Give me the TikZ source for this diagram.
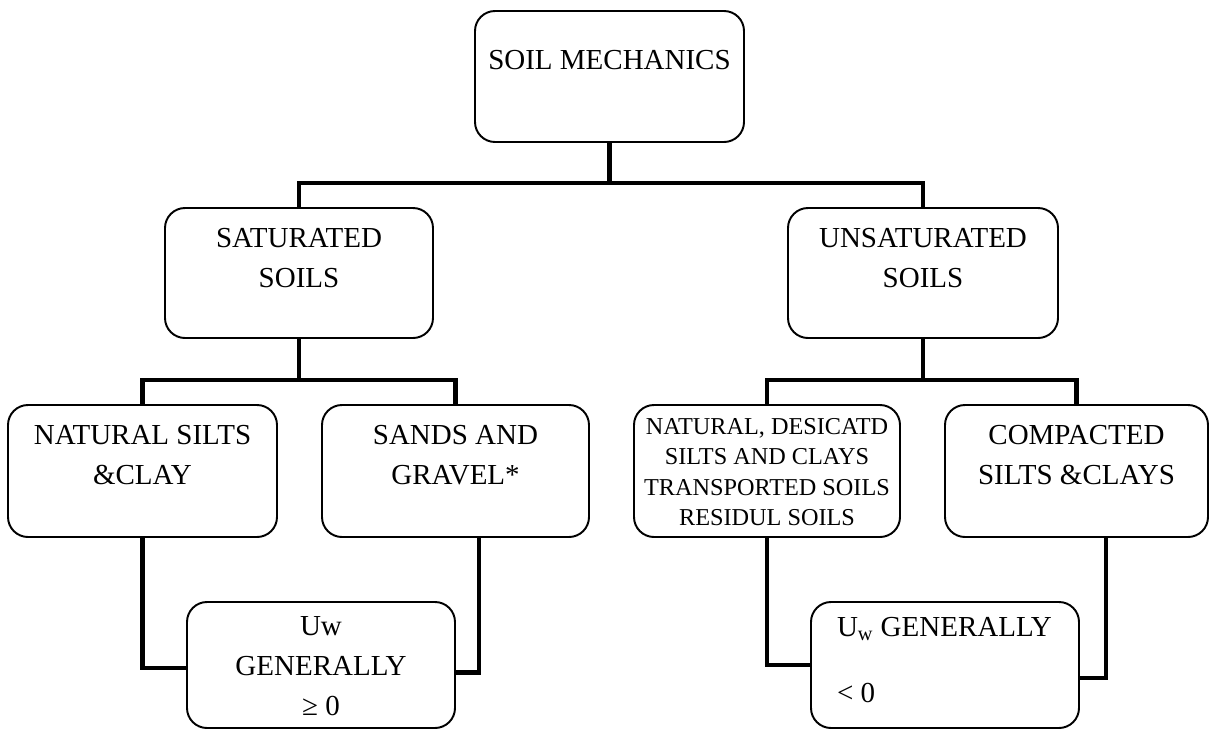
\documentclass[tikz,border=0pt]{standalone}
\usepackage{fontspec}
\setmainfont{Liberation Serif}
\newcommand{\celltext}[4]{\parbox[c][#2][t]{#1}{\centering\vspace*{#3}#4}}

\begin{document}
\begin{tikzpicture}[
  box/.style={draw,line width=1.1pt,rounded corners=0.4cm,inner sep=0pt,fill=white,font=\fontsize{16.5pt}{22.7pt}\selectfont},
  small/.style={font=\fontsize{13.8pt}{17.4pt}\selectfont},
  link/.style={line width=2.8pt}
]
\useasboundingbox (0,0) rectangle (24.24,-14.6);
% top level
\node[box] (soil) at (12.19,-1.53) {\celltext{5.38cm}{2.62cm}{0.78cm}{SOIL MECHANICS}};
\node[box] (sat) at (5.98,-5.46) {\celltext{5.36cm}{2.6cm}{0.4cm}{SATURATED\\SOILS}};
\node[box] (unsat) at (18.46,-5.46) {\celltext{5.4cm}{2.6cm}{0.4cm}{UNSATURATED\\SOILS}};
% soil groups
\node[box] (nsilt) at (2.85,-9.42) {\celltext{5.38cm}{2.64cm}{0.4cm}{NATURAL SILTS\\\&CLAY}};
\node[box] (sands) at (9.11,-9.42) {\celltext{5.34cm}{2.64cm}{0.4cm}{SANDS AND\\GRAVEL*}};
\node[box,small] (dsilt) at (15.34,-9.42) {\celltext{5.32cm}{2.64cm}{0.26cm}{NATURAL, DESICATD\\SILTS AND CLAYS\\TRANSPORTED SOILS\\RESIDUL SOILS}};
\node[box] (compact) at (21.53,-9.42) {\celltext{5.26cm}{2.64cm}{0.4cm}{COMPACTED\\SILTS \&CLAYS}};
% pore water pressure
\node[box] (uwpos) at (6.42,-13.3) {\celltext{5.36cm}{2.52cm}{0.3cm}{Uw\\GENERALLY\\≥ 0}};
\node[box] (uwneg) at (18.9,-13.3) {\parbox[c][2.52cm][t]{5.36cm}{\vspace*{0.3cm}\hspace*{0.52cm}U\textsubscript{w} GENERALLY\\[0.52cm]\hspace*{0.52cm}< 0}};

\coordinate (bus0) at (12.19,-3.66);
\coordinate (bus1) at (5.98,-7.6);
\coordinate (bus2) at (18.46,-7.6);
\draw[link] (soil.south) -- (bus0);
\draw[link] (sat.north) |- (bus0) -| (unsat.north);
\draw[link] (sat.south) -- (bus1);
\draw[link] (nsilt.north) |- (bus1) -| (sands.north);
\draw[link] (unsat.south) -- (bus2);
\draw[link] (dsilt.north) |- (bus2) -| (compact.north);
\draw[link] (nsilt.south) |- ([yshift=-0.06cm]uwpos.west);
\draw[link] (sands.south) ++(0.47,0) |- ([yshift=-0.15cm]uwpos.east);
\draw[link] (dsilt.south) |- (uwneg.west);
\draw[link] (compact.south) ++(0.59,0) |- ([yshift=-0.26cm]uwneg.east);
\end{tikzpicture}
\end{document}
